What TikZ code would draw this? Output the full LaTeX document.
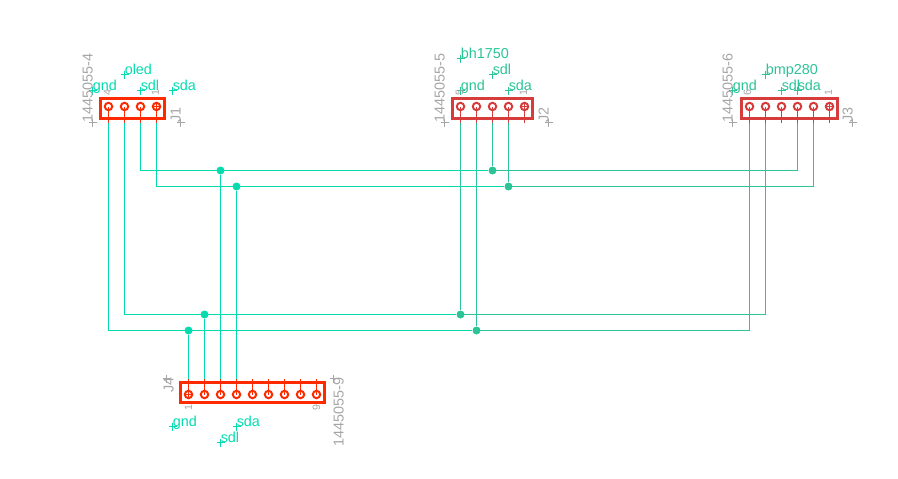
\documentclass[tikz,border=0pt]{standalone}
\usepackage{fontspec}
\setmainfont{Liberation Sans}
\definecolor{brightred}{HTML}{FF2A00}
\definecolor{dullred}{HTML}{D63C3C}
\definecolor{brightteal}{HTML}{04DCB0}
\definecolor{dullteal}{HTML}{2CC497}
\definecolor{partgrey}{HTML}{A6A6A6}
\tikzset{
	partbox/.style={draw,line width=2pt,minimum height=15pt,inner sep=0pt},
	pinhole/.style={circle,draw,line width=1.5pt,minimum size=5.6pt,inner sep=0pt},
	netlabel/.style={anchor=base west,inner sep=0pt,font=\fontsize{10.8}{12}\selectfont},
	greylabel/.style={anchor=base west,inner sep=0pt,rotate=90,text=partgrey,font=\fontsize{10.8}{12}\selectfont},
	pinnum/.style={inner sep=0pt,rotate=90,text=partgrey,font=\fontsize{8}{9}\selectfont},
	junction/.style={circle,fill,inner sep=0pt,minimum size=6pt},
	wire/.style={line width=0.85pt}
}
% small cross at the origin of a text
\newcommand{\originmark}[2]{\draw[line width=0.7pt,#1] (#2) +(-4,0) -- +(4,0) +(0,-4) -- +(0,4);}
\begin{document}
\begin{tikzpicture}[x=0.75pt,y=-0.75pt]
	\useasboundingbox (-0.5,-0.5) rectangle (897.5,477.5);

	% parts
	\node[partbox,brightred,minimum width=48pt] (J1) at (132,108) {};
	\node[partbox,dullred,minimum width=60pt] (J2) at (492,108) {};
	\node[partbox,dullred,minimum width=72pt] (J3) at (789,108) {};
	\node[partbox,brightred,minimum width=108pt] (J4) at (252,392) {};

	% pins: number, x, end of the stub
	\begin{scope}[brightred]
	\foreach \n/\x in {4/108,3/124,2/140,1/156} {
		\node[pinhole] (J1 pin \n) at (\x,106) {};
		\coordinate (J1 end \n) at (\x,122);
		\draw[line width=0.85pt] (J1 pin \n.center) -- (J1 end \n);
	}
	\foreach \n/\x in {1/188,2/204,3/220,4/236,5/252,6/268,7/284,8/300,9/316} {
		\node[pinhole] (J4 pin \n) at (\x,394) {};
		\coordinate (J4 end \n) at (\x,378);
		\draw[line width=0.85pt] (J4 pin \n.center) -- (J4 end \n);
	}
	\draw[line width=0.85pt] (J1 pin 1.west) -- (J1 pin 1.east) (J1 pin 1.north) -- (J1 pin 1.south);
	\draw[line width=0.85pt] (J4 pin 1.west) -- (J4 pin 1.east) (J4 pin 1.north) -- (J4 pin 1.south);
	\end{scope}
	\begin{scope}[dullred]
	\foreach \n/\x in {5/460,4/476,3/492,2/508,1/524} {
		\node[pinhole] (J2 pin \n) at (\x,106) {};
		\coordinate (J2 end \n) at (\x,122);
		\draw[line width=0.85pt] (J2 pin \n.center) -- (J2 end \n);
	}
	\foreach \n/\x in {6/749,5/765,4/781,3/797,2/813,1/829} {
		\node[pinhole] (J3 pin \n) at (\x,106) {};
		\coordinate (J3 end \n) at (\x,122);
		\draw[line width=0.85pt] (J3 pin \n.center) -- (J3 end \n);
	}
	\draw[line width=0.85pt] (J2 pin 1.west) -- (J2 pin 1.east) (J2 pin 1.north) -- (J2 pin 1.south);
	\draw[line width=0.85pt] (J3 pin 1.west) -- (J3 pin 1.east) (J3 pin 1.north) -- (J3 pin 1.south);
	\end{scope}

	% junctions
	\begin{scope}[brightteal]
	\node[junction] (sdl a) at (220,170) {};
	\node[junction] (sda a) at (236,186) {};
	\node[junction] (gnd a) at (204,314) {};
	\node[junction] (vcc a) at (188,330) {};
	\end{scope}
	\begin{scope}[dullteal]
	\node[junction] (sdl b) at (492,170) {};
	\node[junction] (sda b) at (508,186) {};
	\node[junction] (gnd b) at (460,314) {};
	\node[junction] (vcc b) at (476,330) {};
	\end{scope}

	% nets
	\begin{scope}[wire,dullteal]
	\draw (sdl b.center) -| (J3 end 3);
	\draw (sda b.center) -| (J3 end 2);
	\draw (gnd b.center) -| (J3 end 5);
	\draw (vcc b.center) -| (J3 end 6);
	\draw (J2 end 5) -- (gnd b);
	\draw (J2 end 4) -- (vcc b);
	\draw (J2 end 3) -- (sdl b);
	\draw (J2 end 2) -- (sda b);
	\end{scope}
	\begin{scope}[wire,brightteal]
	\draw (J1 end 2) |- (sdl a.center) -- (sdl b);
	\draw (J1 end 1) |- (sda a.center) -- (sda b);
	\draw (J1 end 3) |- (gnd a.center) -- (gnd b);
	\draw (J1 end 4) |- (vcc a.center) -- (vcc b);
	\draw (J4 end 1) -- (vcc a);
	\draw (J4 end 2) -- (gnd a);
	\draw (J4 end 3) -- (sdl a);
	\draw (J4 end 4) -- (sda a);
	\end{scope}

	% net labels
	\begin{scope}[brightteal]
	\foreach \name/\txt/\x/\y in {a/gnd/92/90,b/oled/124/74,c/sdl/140/90,d/sda/172/90,e/gnd/172/426,f/sda/236/426,g/sdl/220/442} {
		\node[netlabel] (lab \name) at (\x,\y) {\txt};
		\originmark{}{\x,\y}
	}
	\end{scope}
	\begin{scope}[dullteal]
	\foreach \name/\txt/\x/\y in {h/bh1750/460/58,i/sdl/492/74,j/gnd/460/90,k/sda/508/90,l/bmp280/765/74,m/gnd/732/90,n/sdl/781/90,o/sda/797/90} {
		\node[netlabel] (lab \name) at (\x,\y) {\txt};
		\originmark{}{\x,\y}
	}
	\end{scope}

	% part names
	\foreach \name/\txt/\x/\y in {p/1445055-4/92/122,q/1445055-5/444/122,r/1445055-6/732/122,s/J1/180/122,t/J2/548/122,u/J3/852/122} {
		\node[greylabel] (lab \name) at (\x,\y) {\txt};
		\originmark{partgrey}{\x,\y}
	}
	\node[greylabel] (lab v) at (343,446) {1445055-9};
	\originmark{partgrey}{333,378}
	\node[greylabel] (lab w) at (173,392) {J4};
	\originmark{partgrey}{166,378}

	% pin numbers
	\foreach \txt/\x/\y in {4/107/92,1/155/92,5/459/92,1/523/92,6/747/92,1/828/92,1/188/407,9/316/407} {
		\node[pinnum] at (\x,\y) {\txt};
	}
\end{tikzpicture}
\end{document}
